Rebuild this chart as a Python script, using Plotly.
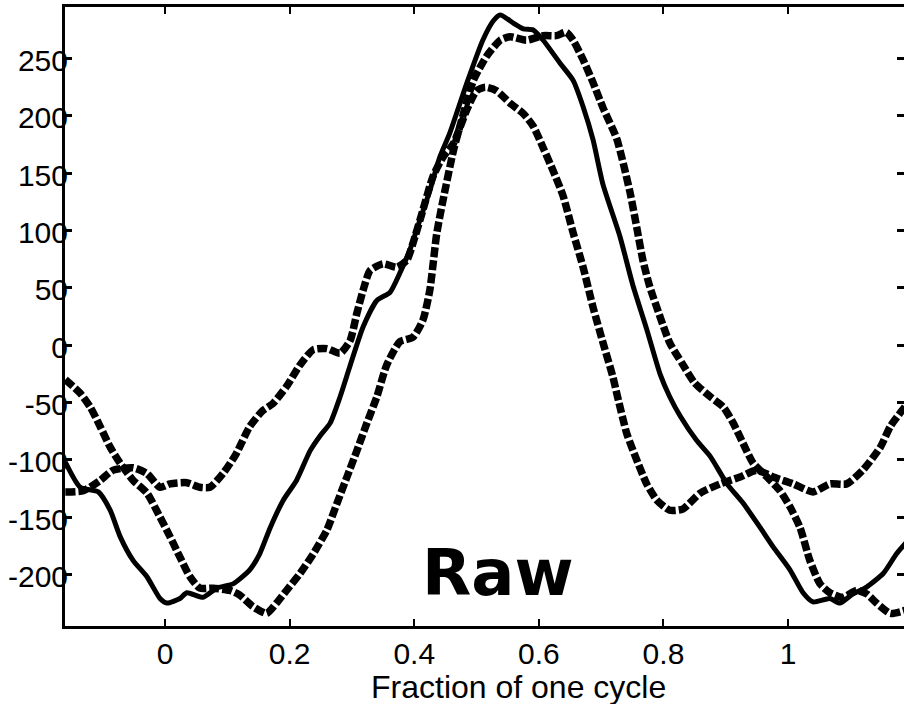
import plotly.graph_objects as go

# ---- data ----
solid_x = [-0.16, -0.136, -0.107, -0.088, -0.072, -0.051, -0.029, -0.008, 0.003, 0.024, 0.035, 0.061, 0.083,
           0.11, 0.136, 0.152, 0.169, 0.19, 0.211, 0.233, 0.249, 0.265, 0.281, 0.297, 0.318, 0.34, 0.361, 0.377,
           0.393, 0.409, 0.425, 0.441, 0.457, 0.484, 0.51, 0.527, 0.538, 0.559, 0.575, 0.591, 0.607, 0.634,
           0.655, 0.671, 0.687, 0.703, 0.73, 0.751, 0.773, 0.795, 0.81, 0.827, 0.853, 0.875, 0.902, 0.928,
           0.955, 0.976, 1.003, 1.024, 1.04, 1.067, 1.083, 1.104, 1.126, 1.153, 1.174, 1.19]
solid_y = [-102, -124, -128, -144, -167, -188, -202, -221, -225, -221, -216, -220, -212,
           -208, -196, -182, -159, -135, -118, -92, -79, -68, -45, -18, 16, 39, 46, 63,
           83, 109, 135, 164, 185, 228, 266, 283, 288, 281, 276, 275, 266, 246,
           231, 208, 179, 140, 95, 52, 14, -26, -45, -62, -83, -97, -121, -138,
           -159, -176, -196, -216, -224, -221, -225, -217, -211, -199, -182, -172]

dashA_x = [-0.16, -0.136, -0.12, -0.104, -0.088, -0.072, -0.051, -0.029, -0.008, 0.008, 0.024, 0.04, 0.056,
           0.077, 0.104, 0.12, 0.141, 0.163, 0.179, 0.195, 0.217, 0.238, 0.26, 0.276, 0.292, 0.308, 0.324,
           0.34, 0.356, 0.377, 0.398, 0.414, 0.425, 0.436, 0.446, 0.463, 0.479, 0.495, 0.516, 0.538, 0.554,
           0.58, 0.607, 0.628, 0.644, 0.655, 0.671, 0.687, 0.703, 0.725, 0.746, 0.757, 0.767, 0.778, 0.795,
           0.81, 0.83, 0.85, 0.875, 0.896, 0.912, 0.928, 0.944, 0.966, 0.987, 1.003, 1.019, 1.035, 1.051,
           1.067, 1.088, 1.11, 1.126, 1.142, 1.164, 1.19]
dashA_y = [-30, -42, -54, -71, -89, -103, -118, -129, -150, -167, -185, -202, -212,
           -212, -214, -218, -228, -234, -225, -214, -199, -182, -161, -138, -115, -92, -68,
           -45, -17, 3, 7, 22, 48, 97, 126, 170, 202, 231, 252, 266, 269,
           266, 270, 270, 273, 266, 249, 229, 207, 180, 134, 103, 74, 51, 24,
           2, -16, -33, -45, -54, -68, -86, -103, -115, -127, -141, -159, -188, -208,
           -216, -220, -214, -217, -225, -234, -231]

dashB_x = [-0.16, -0.131, -0.104, -0.083, -0.051, -0.029, -0.008, 0.008, 0.035, 0.056, 0.072, 0.093, 0.114,
           0.136, 0.157, 0.173, 0.195, 0.217, 0.238, 0.26, 0.281, 0.297, 0.308, 0.318, 0.329, 0.35, 0.372,
           0.388, 0.398, 0.414, 0.43, 0.446, 0.463, 0.484, 0.5, 0.514, 0.532, 0.554, 0.575, 0.591, 0.607,
           0.623, 0.639, 0.655, 0.671, 0.687, 0.703, 0.719, 0.725, 0.741, 0.757, 0.773, 0.789, 0.81, 0.831,
           0.859, 0.891, 0.923, 0.95, 0.976, 1.008, 1.04, 1.067, 1.094, 1.12, 1.148, 1.164, 1.19]
dashB_y = [-128, -127, -118, -109, -107, -112, -124, -121, -120, -124, -124, -112, -95,
           -71, -57, -51, -36, -17, -4, -3, -7, 4, 28, 48, 65, 71, 68,
           74, 89, 118, 147, 164, 176, 205, 222, 225, 222, 211, 202, 191, 172,
           152, 130, 98, 68, 33, 2, -28, -42, -77, -100, -121, -135, -144, -143,
           -129, -121, -115, -109, -115, -121, -128, -121, -121, -109, -89, -71, -52]

x_ticks = [0, 0.2, 0.4, 0.6, 0.8, 1]
x_tick_labels = ["0", "0.2", "0.4", "0.6", "0.8", "1"]
y_ticks = [-200, -150, -100, -50, 0, 50, 100, 150, 200, 250]
y_tick_labels = [str(v) for v in y_ticks]
x_range = [-0.1605, 1.186]
y_range = [-245, 295]
x_title = "Fraction of one cycle"
panel_label = "Raw"

fig = go.Figure()
fig.add_trace(go.Scatter(x=dashA_x, y=dashA_y, mode="lines",
                         line=dict(color="black", width=7.5, dash="10px,3px", shape="spline", smoothing=0.6),
                         showlegend=False))
fig.add_trace(go.Scatter(x=dashB_x, y=dashB_y, mode="lines",
                         line=dict(color="black", width=7.5, dash="10px,3px", shape="spline", smoothing=0.6),
                         showlegend=False))
fig.add_trace(go.Scatter(x=solid_x, y=solid_y, mode="lines",
                         line=dict(color="black", width=5, shape="spline", smoothing=0.6),
                         showlegend=False))
# invisible trace to attach the right-hand y axis (ticks only)
fig.add_trace(go.Scatter(x=[x_range[0]], y=[y_range[0]], yaxis="y2", mode="none",
                         showlegend=False, hoverinfo="skip"))

font_axis = dict(family="Liberation Sans, Arial, sans-serif", size=30, color="black")

fig.update_layout(
    width=904, height=704,
    margin=dict(l=65, r=0, t=7, b=78),
    paper_bgcolor="white", plot_bgcolor="white",
    xaxis=dict(range=x_range, tickvals=x_ticks, ticktext=x_tick_labels,
               ticks="inside", ticklen=7, tickwidth=1.5, tickcolor="black",
               showline=True, linewidth=3, linecolor="black", mirror="ticks",
               showgrid=False, zeroline=False, tickfont=font_axis,
               ticklabelstandoff=-1),
    yaxis=dict(range=y_range, tickvals=y_ticks, ticktext=y_tick_labels,
               ticks="inside", ticklen=7, tickwidth=3, tickcolor="black",
               showline=True, linewidth=3, linecolor="black", mirror=False,
               showgrid=False, zeroline=False, tickfont=font_axis,
               ticklabelstandoff=-12, ticklabelshift=2),
    yaxis2=dict(range=y_range, tickvals=y_ticks, overlaying="y", side="right",
                ticks="inside", ticklen=7, tickwidth=3, tickcolor="black",
                showline=False, showticklabels=False, showgrid=False, zeroline=False),
    annotations=[
        dict(text=x_title, xref="paper", yref="paper", x=0.54, y=-0.098,
             xanchor="center", yanchor="middle", showarrow=False,
             font=dict(family="Liberation Sans, Arial, sans-serif", size=32, color="black")),
        dict(text="<b>" + panel_label + "</b>", xref="x", yref="y", x=0.535, y=-199,
             xanchor="center", yanchor="middle", showarrow=False,
             font=dict(family="DejaVu Sans", size=64, color="black")),
    ],
)

fig.write_html("out.html")
